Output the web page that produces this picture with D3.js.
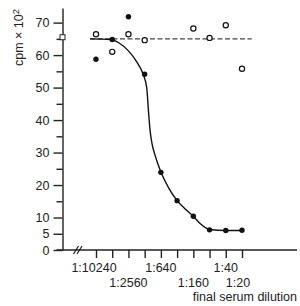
<html>
<head>
    <title>cpm vs final serum dilution</title>
    <script type="text/javascript" src="https://d3js.org/d3.v7.min.js"></script>
    <style type="text/css">
        body {
            margin: 0;
            padding: 0;
            background: #fff;
        }
        svg text {
            font-family: 'Liberation Sans', Arial, Helvetica, sans-serif;
            font-size: 12.5px;
            fill: #222;
        }
        svg .axis path, svg .axis line {
            stroke: #222;
            stroke-width: 1.4;
        }
    </style>
</head>
<body>
    <div id="svg-container"></div>

    <script type="text/javascript">
    // dilution steps, 1:10240 ... 1:20 (two-fold)
    var dilutions = ['1:10240', '1:5120', '1:2560', '1:1280', '1:640', '1:320', '1:160', '1:80', '1:40', '1:20'];
    var labelled = ['1:10240', '1:2560', '1:640', '1:160', '1:40', '1:20'];

    // cpm x 10^2
    var immuneValues = [58.7, 64.8, 71.8, 54.1, 23.9, 15.2, 10.4, 6.2, 6.0, 6.1];
    var controlValues = [66.4, 61.0, 66.4, 64.6, null, null, 68.2, 65.3, 69.2, 55.8];
    var noSerumValue = 65.5;
    var controlLevel = 65;

    // fitted curve: [dilution index, cpm]
    var fitCurve = [
        [-0.37, 65.0], [0.9, 64.8], [1.4, 63.8], [2.0, 61.3], [2.5, 58.0],
        [2.9, 54.2], [3.13, 49.8], [3.23, 43.1], [3.33, 37.0], [3.45, 32.8],
        [3.62, 29.5], [4.0, 24.0], [4.46, 19.3], [5.0, 15.2], [5.5, 12.6],
        [6.0, 10.4], [6.45, 8.0], [7.0, 6.3], [8.0, 6.0], [9.0, 6.0]
    ];
    var controlExtent = [-0.37, 9.6];

    var yMajor = [0, 5, 10, 20, 30, 40, 50, 60, 70];
    var yMinor = [15, 25, 35, 45, 55, 65];

    var SVG_WIDTH = 300;
    var SVG_HEIGHT = 306;
    var AXIS_X = 62.5;   // where the y axis sits
    var AXIS_Y = 250;    // where the x axis sits

    var svg = d3.select('#svg-container')
                .append('svg')
                .attr('width', SVG_WIDTH)
                .attr('height', SVG_HEIGHT);

    var x = d3.scaleLinear().domain([0, dilutions.length - 1]).range([96, 242]);
    var y = d3.scaleLinear().domain([0, 74.5]).range([AXIS_Y, 8]);

    // y axis, major ticks with labels
    svg.append('g')
        .attr('class', 'axis')
        .attr('transform', 'translate(' + AXIS_X + ',0)')
        .call(d3.axisLeft(y).tickValues(yMajor).tickSize(9).tickSizeOuter(0).tickPadding(4))
        .call(function(g) { g.selectAll('text').style('font-size', '12.5px').attr('fill', '#222'); });

    // y axis, minor ticks
    svg.append('g')
        .attr('class', 'axis')
        .attr('transform', 'translate(' + AXIS_X + ',0)')
        .call(d3.axisLeft(y).tickValues(yMinor).tickSize(6).tickFormat(''))
        .call(function(g) { g.select('.domain').remove(); });

    // x axis baseline runs a bit past the y axis on the left
    svg.append('line')
        .attr('x1', AXIS_X - 6)
        .attr('x2', SVG_WIDTH - 3)
        .attr('y1', AXIS_Y)
        .attr('y2', AXIS_Y)
        .attr('stroke', '#222')
        .attr('stroke-width', 1.4);

    // x ticks
    var xAxis = svg.append('g')
        .attr('class', 'axis')
        .attr('transform', 'translate(0,' + AXIS_Y + ')')
        .call(d3.axisBottom(x).tickValues(d3.range(dilutions.length)).tickSize(8).tickFormat(''));
    xAxis.select('.domain').remove();

    // axis break
    [76, 79.5].forEach(function(bx) {
        svg.append('line')
            .attr('x1', bx - 2.5).attr('y1', AXIS_Y + 4)
            .attr('x2', bx + 2.5).attr('y2', AXIS_Y - 4)
            .attr('stroke', '#222')
            .attr('stroke-width', 1.2);
    });

    // staggered dilution labels
    svg.selectAll('text.dilution')
        .data(labelled)
        .enter()
        .append('text')
        .attr('class', 'dilution')
        .attr('text-anchor', 'middle')
        .attr('x', function(d) { return x(dilutions.indexOf(d)); })
        .attr('y', function(d, i) { return i % 2 === 0 ? 272 : 286.5; })
        .attr('dx', function(d) { return d === '1:20' ? -4 : (d === '1:10240' ? -2 : 0); })
        .text(function(d) { return d; });

    svg.append('text')
        .attr('text-anchor', 'end')
        .attr('x', 297)
        .attr('y', 301)
        .text('final serum dilution');

    var yLabel = svg.append('text')
        .attr('text-anchor', 'middle')
        .attr('transform', 'translate(23,37.5) rotate(-90)')
        .text('cpm \u00d7 10');
    yLabel.append('tspan')
        .attr('dy', -4)
        .style('font-size', '9.5px')
        .text('2');

    // control level (dashed)
    svg.append('line')
        .attr('x1', x(controlExtent[0]))
        .attr('x2', x(controlExtent[1]))
        .attr('y1', y(controlLevel))
        .attr('y2', y(controlLevel))
        .attr('stroke', '#444')
        .attr('stroke-width', 1.4)
        .attr('stroke-dasharray', '5,2.5');

    // fitted curve
    var line = d3.line()
        .x(function(d) { return x(d[0]); })
        .y(function(d) { return y(d[1]); })
        .curve(d3.curveMonotoneX);

    svg.append('path')
        .datum(fitCurve)
        .attr('d', line)
        .attr('fill', 'none')
        .attr('stroke', '#111')
        .attr('stroke-width', 1.4);

    // no-serum marker on the y axis
    svg.append('rect')
        .attr('x', AXIS_X - 2.5)
        .attr('y', y(noSerumValue) - 2.5)
        .attr('width', 5)
        .attr('height', 5)
        .attr('fill', '#fff')
        .attr('stroke', '#222')
        .attr('stroke-width', 1);

    // open circles (control serum)
    svg.selectAll('circle.control')
        .data(controlValues.map(function(v, i) { return [i, v]; }).filter(function(d) { return d[1] !== null; }))
        .enter()
        .append('circle')
        .attr('class', 'control')
        .attr('cx', function(d) { return x(d[0]); })
        .attr('cy', function(d) { return y(d[1]); })
        .attr('r', 2.6)
        .attr('fill', '#fff')
        .attr('stroke', '#111')
        .attr('stroke-width', 1.2);

    // filled circles (immune serum)
    svg.selectAll('circle.immune')
        .data(immuneValues)
        .enter()
        .append('circle')
        .attr('class', 'immune')
        .attr('cx', function(d, i) { return x(i); })
        .attr('cy', function(d) { return y(d); })
        .attr('r', 2.7)
        .attr('fill', '#111');

    </script>
</body>
</html>
